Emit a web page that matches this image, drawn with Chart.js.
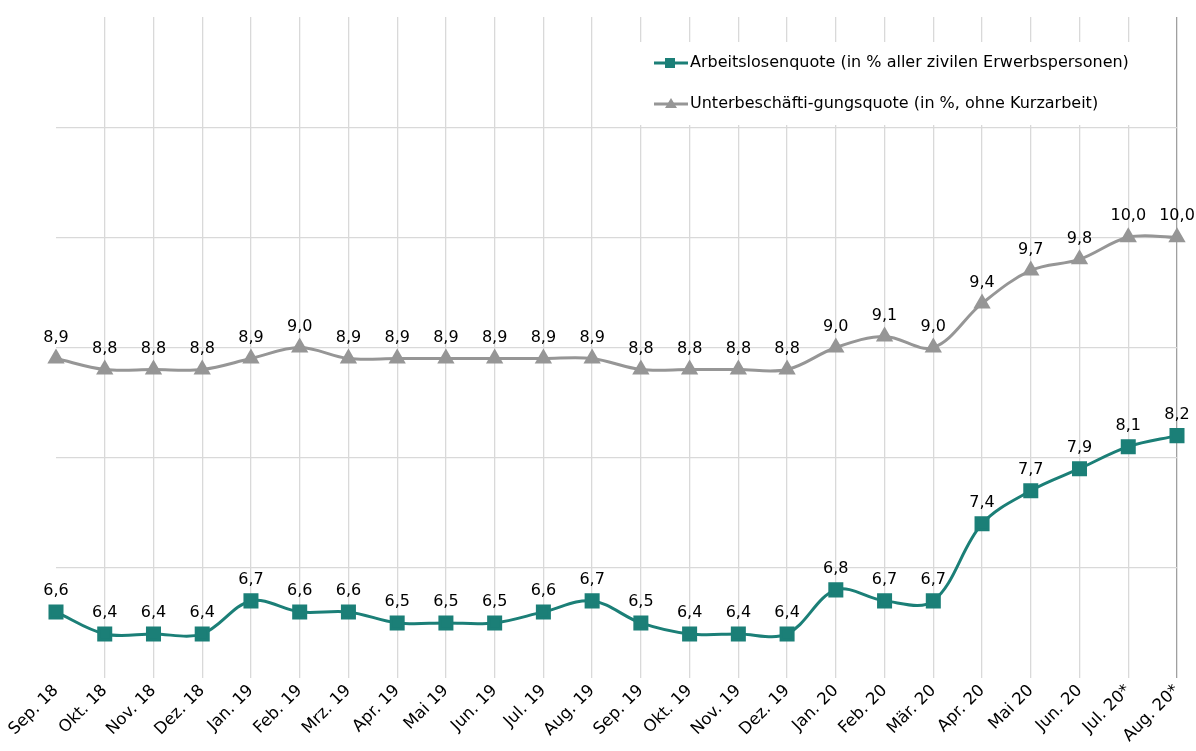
<!DOCTYPE html>
<html>
<head>
<meta charset="utf-8">
<script src="https://cdn.jsdelivr.net/npm/chart.js@4"></script>
<style>
  html, body { margin: 0; padding: 0; background: #fff; }
  #wrap { width: 1196px; height: 751px; }
</style>
</head>
<body>
<div id="wrap"><canvas id="c" width="1196" height="751"></canvas></div>
<script>
const categories = ["Sep. 18","Okt. 18","Nov. 18","Dez. 18","Jan. 19","Feb. 19","Mrz. 19","Apr. 19","Mai 19","Jun. 19","Jul. 19","Aug. 19","Sep. 19","Okt. 19","Nov. 19","Dez. 19","Jan. 20","Feb. 20","Mär. 20","Apr. 20","Mai 20","Jun. 20","Jul. 20*","Aug. 20*"];
const arbeitslosenquote = [6.6,6.4,6.4,6.4,6.7,6.6,6.6,6.5,6.5,6.5,6.6,6.7,6.5,6.4,6.4,6.4,6.8,6.7,6.7,7.4,7.7,7.9,8.1,8.2];
const unterbeschaeftigungsquote = [8.9,8.8,8.8,8.8,8.9,9.0,8.9,8.9,8.9,8.9,8.9,8.9,8.8,8.8,8.8,8.8,9.0,9.1,9.0,9.4,9.7,9.8,10.0,10.0];
const seriesNames = ["Arbeitslosenquote (in % aller zivilen Erwerbspersonen)", "Unterbeschäfti-gungsquote (in %, ohne Kurzarbeit)"];
const yTicks = [6,7,8,9,10,11,12];

const TEAL = '#1b7f77';
const GREY = '#969696';
const FONT = '"DejaVu Sans", Verdana, sans-serif';

const fmt = v => v.toFixed(1).replace('.', ',');

const dataLabels = {
  id: 'dataLabels',
  afterDatasetsDraw(chart) {
    const ctx = chart.ctx;
    ctx.save();
    ctx.font = '16px ' + FONT;
    ctx.fillStyle = '#000';
    ctx.textAlign = 'center';
    ctx.textBaseline = 'middle';
    chart.data.datasets.forEach((ds, i) => {
      const meta = chart.getDatasetMeta(i);
      meta.data.forEach((pt, j) => {
        ctx.fillText(fmt(ds.data[j]), pt.x, pt.y - 21);
      });
    });
    ctx.restore();
  }
};

const legendBox = {
  id: 'legendBox',
  beforeDatasetsDraw(chart) {
    const ctx = chart.ctx;
    ctx.save();
    ctx.fillStyle = '#fff';
    ctx.fillRect(636, 42, 510, 83);
    ctx.restore();
  },
  afterDraw(chart) {
    const ctx = chart.ctx;
    ctx.save();
    chart.data.datasets.forEach((ds, i) => {
      const y = i === 0 ? 63 : 104;
      ctx.strokeStyle = ds.borderColor;
      ctx.lineWidth = 3;
      ctx.beginPath();
      ctx.moveTo(654, y);
      ctx.lineTo(688, y);
      ctx.stroke();
      ctx.fillStyle = ds.borderColor;
      if (i === 0) {
        ctx.fillRect(665, y - 5, 10, 10);
      } else {
        ctx.beginPath();
        ctx.moveTo(671, y - 6);
        ctx.lineTo(677, y + 4);
        ctx.lineTo(665, y + 4);
        ctx.closePath();
        ctx.fill();
      }
      ctx.font = '16px ' + FONT;
      ctx.fillStyle = '#000';
      ctx.textAlign = 'left';
      ctx.textBaseline = 'middle';
      ctx.fillText(ds.label, 690, y);
    });
    ctx.restore();
  }
};

new Chart(document.getElementById('c'), {
  type: 'line',
  data: {
    labels: categories,
    datasets: [
      {
        label: seriesNames[0],
        data: arbeitslosenquote,
        borderColor: TEAL,
        backgroundColor: TEAL,
        borderWidth: 3,
        pointStyle: 'rect',
        pointRadius: 8.5,
        pointHoverRadius: 8.5,
        tension: 0.35
      },
      {
        label: seriesNames[1],
        data: unterbeschaeftigungsquote,
        borderColor: GREY,
        backgroundColor: GREY,
        borderWidth: 3,
        pointStyle: 'triangle',
        pointRadius: 7,
        pointHoverRadius: 7,
        tension: 0.35
      }
    ]
  },
  options: {
    responsive: false,
    animation: false,
    events: [],
    layout: { padding: { top: 17, right: 19, left: 0, bottom: 0 } },
    plugins: { legend: { display: false }, tooltip: { enabled: false } },
    scales: {
      x: {
        offset: false,
        border: { display: false },
        grid: {
          drawTicks: false,
          lineWidth: 1.3,
          color: c => c.index === 0 ? 'rgba(0,0,0,0)' : (c.index === categories.length - 1 ? '#a0a0a0' : '#d9d9d9')
        },
        ticks: {
          autoSkip: false,
          maxRotation: 45,
          minRotation: 45,
          padding: 3,
          color: '#000',
          font: { family: FONT, size: 16.5 }
        },
        afterFit: s => { s.height = 73; }
      },
      y: {
        min: yTicks[0],
        max: yTicks[yTicks.length - 1],
        afterBuildTicks: s => { s.ticks = yTicks.map(v => ({ value: v })); },
        border: { display: false },
        grid: {
          drawTicks: false,
          lineWidth: 1.3,
          color: c => (c.tick.value === yTicks[0] || c.tick.value === yTicks[yTicks.length - 1]) ? 'rgba(0,0,0,0)' : '#d9d9d9'
        },
        ticks: { display: false },
        afterFit: s => { s.width = 56; }
      }
    }
  },
  plugins: [dataLabels, legendBox]
});
</script>
</body>
</html>
